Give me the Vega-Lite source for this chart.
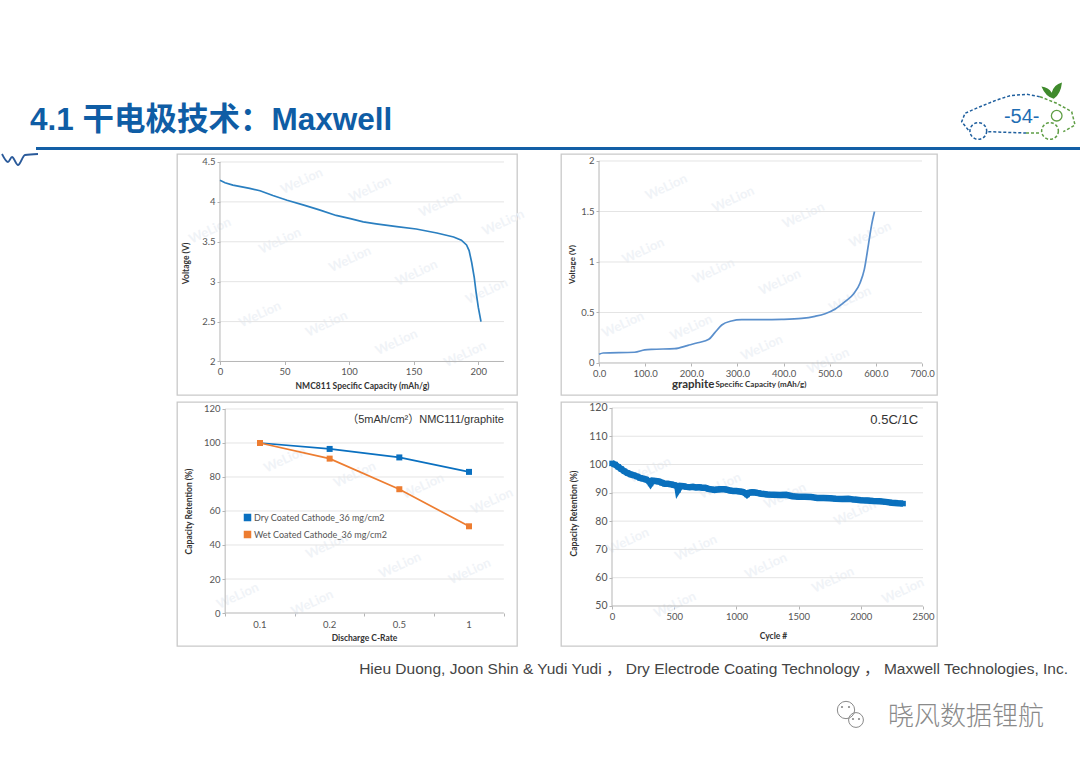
{
  "$schema": "https://vega.github.io/schema/vega-lite/v6.json",
  "background": "white",
  "padding": {"left": -2, "top": 77, "right": 0, "bottom": 0},
  "config": {
    "view": {"stroke": null},
    "font": "Lato",
    "axis": {"zindex": 1, "grid": false, "domain": false, "tickColor": "#b5b5b5", "tickSize": 3, "labelColor": "#555555", "labelFontSize": 9.5, "titleColor": "#333333", "titleFontSize": 8.5, "titleFontWeight": "bold"}
  },
  "spacing": 0,
  "vconcat": [
    {
      "spacing": 0,
      "bounds": "flush",
      "hconcat": [
        {
          "width": 960,
          "height": 64,
          "data": {"values": [{"label": "4.1 干电极技术：Maxwell"}]},
          "mark": {"type": "text", "align": "left", "dx": 30, "dy": 12, "font": "Liberation Sans, Noto Sans CJK SC", "fontSize": 31.5, "fontWeight": "bold", "color": "#0f5da5"},
          "encoding": {
            "x": {"datum": 0, "type": "quantitative", "scale": {"domain": [0, 1]}, "axis": null},
            "text": {"field": "label"}
          }
        },
        {
          "width": 120,
          "height": 64,
          "encoding": {
            "x": {"field": "x", "type": "quantitative", "scale": {"domain": [0, 120]}, "axis": null},
            "y": {"field": "y", "type": "quantitative", "scale": {"domain": [64, 0]}, "axis": null}
          },
          "layer": [
            {
              "data": {"values": [
                {"i": 1, "x": 8.3, "y": 53, "part": "a"}, {"i": 2, "x": 1.7, "y": 44.7, "part": "a"}, {"i": 3, "x": 5, "y": 36.3, "part": "a"}, {"i": 4, "x": 20, "y": 29.7, "part": "a"}, {"i": 5, "x": 36.7, "y": 23, "part": "a"}, {"i": 6, "x": 50, "y": 18.7, "part": "a"}, {"i": 7, "x": 66.7, "y": 17.3, "part": "a"}, {"i": 8, "x": 80, "y": 19.7, "part": "a"},
                {"i": 1, "x": 28.3, "y": 54.7, "part": "b"}, {"i": 2, "x": 66, "y": 56, "part": "b"}
              ]},
              "mark": {"type": "line", "color": "#1f5f9e", "strokeWidth": 1.5, "strokeDash": [3, 2]},
              "encoding": {"detail": {"field": "part"}, "order": {"field": "i"}}
            },
            {
              "data": {"values": [
                {"i": 1, "x": 80, "y": 19.7, "part": "a"}, {"i": 2, "x": 96.7, "y": 26.3, "part": "a"}, {"i": 3, "x": 111.7, "y": 34.7, "part": "a"}, {"i": 4, "x": 115, "y": 48, "part": "a"}, {"i": 5, "x": 103.3, "y": 54.7, "part": "a"},
                {"i": 1, "x": 66, "y": 56, "part": "b"}, {"i": 2, "x": 80, "y": 56, "part": "b"}
              ]},
              "mark": {"type": "line", "color": "#5f9e45", "strokeWidth": 1.5, "strokeDash": [3, 2]},
              "encoding": {"detail": {"field": "part"}, "order": {"field": "i"}}
            },
            {
              "data": {"values": [{"x": 18.3, "y": 54}]},
              "mark": {"type": "point", "shape": "circle", "size": 280, "color": "#1f5f9e", "strokeWidth": 1.5, "strokeDash": [3, 2], "filled": false, "opacity": 1}
            },
            {
              "data": {"values": [{"x": 90, "y": 54}]},
              "mark": {"type": "point", "shape": "circle", "size": 280, "color": "#5f9e45", "strokeWidth": 1.5, "strokeDash": [3, 2], "filled": false, "opacity": 1}
            },
            {
              "data": {"values": [{"x": 96.7, "y": 38.7}]},
              "mark": {"type": "point", "shape": "circle", "size": 113, "color": "#5f9e45", "strokeWidth": 1.3, "filled": false, "opacity": 1}
            },
            {
              "data": {"values": [{"x": 91.7, "y": 14.7}]},
              "mark": {"type": "point", "shape": "M-1,-0.5 Q-0.3,-0.4 0,0.1 Q0.2,-0.7 1,-0.9 Q0.9,0.2 0.2,0.7 Q-0.6,0.5 -1,-0.5 Z", "size": 420, "color": "#3f8a2c", "filled": true, "opacity": 1}
            },
            {
              "data": {"values": [{"x": 61.7, "y": 40.3, "label": "-54-"}]},
              "mark": {"type": "text", "font": "Liberation Sans", "fontSize": 20, "color": "#1f6db3"},
              "encoding": {"text": {"field": "label"}}
            }
          ]
        }
      ]
    },
    {"width": 1080, "height": 4, "data": {"values": []}, "mark": "point"},
    {
      "spacing": 0,
      "bounds": "flush",
      "hconcat": [
        {"width": 36, "height": 3, "data": {"values": []}, "mark": "point"},
        {
          "width": 1046,
          "height": 3,
          "view": {"fill": "#135fa6", "stroke": null},
          "data": {"values": []},
          "mark": "point"
        }
      ]
    },
    {
      "spacing": 0,
      "bounds": "flush",
      "hconcat": [
        {
          "width": 177,
          "height": 241,
          "data": {"values": [{"x": 2, "y": 0}, {"x": 8, "y": 8}, {"x": 12, "y": 3}, {"x": 18, "y": 11}, {"x": 25, "y": 1}, {"x": 38, "y": 0}]},
          "mark": {"type": "line", "color": "#2a5a9a", "strokeWidth": 1.8, "interpolate": "monotone"},
          "encoding": {
            "x": {"field": "x", "type": "quantitative", "scale": {"domain": [0, 177]}, "axis": null},
            "y": {"field": "y", "type": "quantitative", "scale": {"domain": [241, 0]}, "axis": null}
          }
        },
        {
          "width": 340,
          "height": 241,
          "view": {"stroke": "#c9c9c9", "strokeWidth": 1.3},
          "encoding": {
            "x": {"field": "x", "type": "quantitative", "scale": {"domain": [-33.3, 230.1], "nice": false},
              "axis": {"orient": "bottom", "offset": -33.5, "values": [0, 50, 100, 150, 200], "title": "NMC811 Specific Capacity (mAh/g)", "titleX": 185, "titlePadding": 5}},
            "y": {"field": "y", "type": "quantitative", "scale": {"domain": [1.58, 4.6], "nice": false, "zero": false},
              "axis": {"orient": "left", "offset": -43, "values": [2, 2.5, 3, 3.5, 4, 4.5], "format": "~g", "title": "Voltage (V)", "titleY": 109, "titlePadding": 11}}
          },
          "layer": [
            {
              "data": {"values": [{"x": 63.3, "y": 4.26}, {"x": 116.2, "y": 4.16}, {"x": 170.4, "y": 3.97}, {"x": 219.5, "y": 3.74}, {"x": -7.7, "y": 3.64}, {"x": 46.5, "y": 3.51}, {"x": 100.7, "y": 3.28}, {"x": 152.3, "y": 3.11}, {"x": 206.6, "y": 2.88}, {"x": 31, "y": 2.59}, {"x": 82.6, "y": 2.47}, {"x": 136.8, "y": 2.24}, {"x": 189.8, "y": 2.09}]},
              "mark": {"type": "text", "angle": 335, "fontSize": 13, "fontWeight": "bold", "color": "#f0f3f7"},
              "encoding": {"text": {"value": "WeLion"}}
            },
            {
              "data": {"values": [{"x": 0, "x2": 220, "y": 2.5}, {"x": 0, "x2": 220, "y": 3}, {"x": 0, "x2": 220, "y": 3.5}, {"x": 0, "x2": 220, "y": 4}, {"x": 0, "x2": 220, "y": 4.5}]},
              "mark": {"type": "rule", "color": "#e4e4e4"},
              "encoding": {"x2": {"field": "x2"}}
            },
            {
              "data": {"values": [{"x": 0, "x2": 220, "y": 2, "y2": 2}, {"x": 0, "x2": 0, "y": 2, "y2": 4.5}]},
              "mark": {"type": "rule", "color": "#b5b5b5"},
              "encoding": {"x2": {"field": "x2"}, "y2": {"field": "y2"}}
            },
            {
              "data": {"values": [
                {"x": 0, "y": 4.27}, {"x": 3.9, "y": 4.24}, {"x": 10, "y": 4.21}, {"x": 23, "y": 4.17}, {"x": 31, "y": 4.14}, {"x": 41, "y": 4.08}, {"x": 52, "y": 4.02}, {"x": 65, "y": 3.96}, {"x": 77, "y": 3.9}, {"x": 90, "y": 3.83}, {"x": 101, "y": 3.79}, {"x": 111, "y": 3.75}, {"x": 121, "y": 3.725}, {"x": 137, "y": 3.69}, {"x": 152, "y": 3.66}, {"x": 168, "y": 3.61}, {"x": 181, "y": 3.56}, {"x": 187, "y": 3.52}, {"x": 191, "y": 3.46}, {"x": 193, "y": 3.39}, {"x": 195, "y": 3.24}, {"x": 197, "y": 3.05}, {"x": 198.3, "y": 2.88}, {"x": 200.1, "y": 2.68}, {"x": 202.2, "y": 2.5}
              ]},
              "mark": {"type": "line", "color": "#2a7fc0", "strokeWidth": 1.7}
            }
          ]
        },
        {
          "width": 44,
          "height": 241,
          "data": {"values": []},
          "mark": "point"
        },
        {
          "width": 376,
          "height": 241,
          "view": {"stroke": "#c9c9c9", "strokeWidth": 1.3},
          "encoding": {
            "x": {"field": "x", "type": "quantitative", "scale": {"domain": [-82.4, 732.5], "nice": false},
              "axis": {"orient": "bottom", "offset": -32, "values": [0, 100, 200, 300, 400, 500, 600, 700], "format": ".1f", "title": null}},
            "y": {"field": "y", "type": "quantitative", "scale": {"domain": [-0.317, 2.069], "nice": false, "zero": false},
              "axis": {"orient": "left", "offset": -38, "values": [0, 0.5, 1, 1.5, 2], "format": "~g", "title": "Voltage (V)", "titleFontSize": 8, "titleY": 110, "titlePadding": 4}}
          },
          "layer": [
            {
              "data": {"values": [{"x": 146, "y": 1.74}, {"x": 291, "y": 1.62}, {"x": 443, "y": 1.46}, {"x": 588, "y": 1.27}, {"x": 96, "y": 1.11}, {"x": 248, "y": 0.91}, {"x": 392, "y": 0.8}, {"x": 544, "y": 0.63}, {"x": 52, "y": 0.38}, {"x": 200, "y": 0.35}, {"x": 353, "y": 0.15}, {"x": 497, "y": 0.02}]},
              "mark": {"type": "text", "angle": 335, "fontSize": 13, "fontWeight": "bold", "color": "#f0f3f7"},
              "encoding": {"text": {"value": "WeLion"}}
            },
            {
              "data": {"values": [{"x": 0, "x2": 700, "y": 0.5}, {"x": 0, "x2": 700, "y": 1}, {"x": 0, "x2": 700, "y": 1.5}, {"x": 0, "x2": 700, "y": 2}]},
              "mark": {"type": "rule", "color": "#e4e4e4"},
              "encoding": {"x2": {"field": "x2"}}
            },
            {
              "data": {"values": [{"x": 0, "x2": 700, "y": 0, "y2": 0}, {"x": 0, "x2": 0, "y": 0, "y2": 2}]},
              "mark": {"type": "rule", "color": "#b5b5b5"},
              "encoding": {"x2": {"field": "x2"}, "y2": {"field": "y2"}}
            },
            {
              "data": {"values": [
                {"x": 0, "y": 0.086}, {"x": 9, "y": 0.099}, {"x": 77, "y": 0.106}, {"x": 99, "y": 0.129}, {"x": 114, "y": 0.135}, {"x": 164, "y": 0.142}, {"x": 193, "y": 0.175}, {"x": 214, "y": 0.2}, {"x": 238, "y": 0.234}, {"x": 251, "y": 0.3}, {"x": 266, "y": 0.376}, {"x": 287, "y": 0.416}, {"x": 309, "y": 0.429}, {"x": 353, "y": 0.429}, {"x": 396, "y": 0.432}, {"x": 439, "y": 0.442}, {"x": 468, "y": 0.462}, {"x": 490, "y": 0.488}, {"x": 512, "y": 0.535}, {"x": 533, "y": 0.607}, {"x": 552, "y": 0.686}, {"x": 566, "y": 0.795}, {"x": 575, "y": 0.927}, {"x": 584, "y": 1.175}, {"x": 591, "y": 1.373}, {"x": 597, "y": 1.498}
              ]},
              "mark": {"type": "line", "color": "#5a8fcc", "strokeWidth": 1.7, "interpolate": "monotone"}
            },
            {
              "data": {"values": [{"x": 204, "y": -0.218, "label": "graphite"}]},
              "mark": {"type": "text", "fontSize": 11.5, "fontWeight": "bold", "color": "#333333"},
              "encoding": {"text": {"field": "label"}}
            },
            {
              "data": {"values": [{"x": 351, "y": -0.218, "label": "Specific Capacity (mAh/g)"}]},
              "mark": {"type": "text", "fontSize": 8, "fontWeight": "bold", "color": "#333333"},
              "encoding": {"text": {"field": "label"}}
            }
          ]
        }
      ]
    },
    {"width": 1080, "height": 4.5, "data": {"values": []}, "mark": "point"},
    {
      "spacing": 0,
      "bounds": "flush",
      "hconcat": [
        {
          "width": 177,
          "height": 244,
          "data": {"values": []},
          "mark": "point"
        },
        {
          "width": 340,
          "height": 244,
          "view": {"stroke": "#c9c9c9", "strokeWidth": 1.3},
          "encoding": {
            "x": {"field": "x", "type": "quantitative", "scale": {"domain": [-0.191, 4.689], "nice": false, "zero": false},
              "axis": {"orient": "bottom", "offset": -33, "values": [0.5, 1.5, 2.5, 3.5, 4.5], "labels": false, "title": "Discharge C-Rate", "titleX": 187, "titlePadding": 17}},
            "y": {"field": "y", "type": "quantitative", "scale": {"domain": [-19.4, 124.1], "nice": false},
              "axis": {"orient": "left", "offset": -48, "values": [0, 20, 40, 60, 80, 100, 120], "title": "Capacity Retention (%)", "titleY": 109, "titlePadding": 10}}
          },
          "layer": [
            {
              "data": {"values": [{"x": 1.36, "y": 90.2}, {"x": 2.36, "y": 81.4}, {"x": 3.34, "y": 74.5}, {"x": 4.33, "y": 65.8}, {"x": 0.68, "y": 10}, {"x": 1.75, "y": 5.9}, {"x": 3.01, "y": 28}, {"x": 4.01, "y": 24.5}, {"x": 1.96, "y": 39.4}]},
              "mark": {"type": "text", "angle": 335, "fontSize": 13, "fontWeight": "bold", "color": "#f0f3f7"},
              "encoding": {"text": {"value": "WeLion"}}
            },
            {
              "data": {"values": [{"x": 0.5, "x2": 4.5, "y": 20}, {"x": 0.5, "x2": 4.5, "y": 40}, {"x": 0.5, "x2": 4.5, "y": 60}, {"x": 0.5, "x2": 4.5, "y": 80}, {"x": 0.5, "x2": 4.5, "y": 100}, {"x": 0.5, "x2": 4.5, "y": 120}]},
              "mark": {"type": "rule", "color": "#e4e4e4"},
              "encoding": {"x2": {"field": "x2"}}
            },
            {
              "data": {"values": [{"x": 0.5, "x2": 4.5, "y": 0, "y2": 0}, {"x": 0.5, "x2": 0.5, "y": 0, "y2": 120}]},
              "mark": {"type": "rule", "color": "#b5b5b5"},
              "encoding": {"x2": {"field": "x2"}, "y2": {"field": "y2"}}
            },
            {
              "data": {"values": [
                {"x": 1, "y": 100, "series": "Dry Coated Cathode_36 mg/cm2"}, {"x": 2, "y": 96.5, "series": "Dry Coated Cathode_36 mg/cm2"}, {"x": 3, "y": 91.5, "series": "Dry Coated Cathode_36 mg/cm2"}, {"x": 4, "y": 83, "series": "Dry Coated Cathode_36 mg/cm2"},
                {"x": 1, "y": 100, "series": "Wet Coated Cathode_36 mg/cm2"}, {"x": 2, "y": 90.8, "series": "Wet Coated Cathode_36 mg/cm2"}, {"x": 3, "y": 72.8, "series": "Wet Coated Cathode_36 mg/cm2"}, {"x": 4, "y": 51, "series": "Wet Coated Cathode_36 mg/cm2"}
              ]},
              "mark": {"type": "line", "strokeWidth": 1.7, "point": {"filled": true, "shape": "square", "size": 36, "opacity": 1}},
              "encoding": {
                "color": {"field": "series", "type": "nominal",
                  "scale": {"domain": ["Dry Coated Cathode_36 mg/cm2", "Wet Coated Cathode_36 mg/cm2"], "range": ["#0a70c0", "#ed7d31"]},
                  "legend": {"orient": "none", "legendX": 243, "legendY": 436, "title": null, "labelFontSize": 9, "labelColor": "#555555", "symbolSize": 36, "symbolType": "square", "rowPadding": 4, "labelOffset": 2}}
              }
            },
            {
              "data": {"values": [{"x": 1, "y": 0, "label": "0.1"}, {"x": 2, "y": 0, "label": "0.2"}, {"x": 3, "y": 0, "label": "0.5"}, {"x": 4, "y": 0, "label": "1"}]},
              "mark": {"type": "text", "dy": 12, "fontSize": 9.5, "color": "#555555"},
              "encoding": {"text": {"field": "label"}}
            },
            {
              "data": {"values": [{"x": 4.5, "y": 113.5, "label": "（5mAh/cm²）NMC111/graphite"}]},
              "mark": {"type": "text", "align": "right", "font": "Liberation Sans, Noto Sans CJK SC", "fontSize": 11, "color": "#333333"},
              "encoding": {"text": {"field": "label"}}
            }
          ]
        },
        {
          "width": 44,
          "height": 244,
          "data": {"values": []},
          "mark": "point"
        },
        {
          "width": 376,
          "height": 244,
          "view": {"stroke": "#c9c9c9", "strokeWidth": 1.3},
          "encoding": {
            "x": {"field": "x", "type": "quantitative", "scale": {"domain": [-410, 2612.5], "nice": false},
              "axis": {"orient": "bottom", "offset": -40, "values": [0, 500, 1000, 1500, 2000, 2500], "format": "d", "title": "Cycle #", "titleX": 212, "titlePadding": 11}},
            "y": {"field": "y", "type": "quantitative", "scale": {"domain": [35.86, 122.1], "nice": false, "zero": false},
              "axis": {"orient": "left", "offset": -51, "values": [50, 60, 70, 80, 90, 100, 110, 120], "labelFontSize": 10.5, "title": "Capacity Retention (%)", "titleY": 111, "titlePadding": 10}}
          },
          "layer": [
            {
              "data": {"values": [{"x": 305, "y": 98}, {"x": 868, "y": 92.4}, {"x": 1391, "y": 88.9}, {"x": 1953, "y": 82.9}, {"x": 129, "y": 73}, {"x": 675, "y": 70.5}, {"x": 1238, "y": 64.1}, {"x": 1777, "y": 59.2}, {"x": 2339, "y": 55.3}, {"x": 506, "y": 50.4}]},
              "mark": {"type": "text", "angle": 335, "fontSize": 13, "fontWeight": "bold", "color": "#f0f3f7"},
              "encoding": {"text": {"value": "WeLion"}}
            },
            {
              "data": {"values": [{"x": 0, "x2": 2500, "y": 60}, {"x": 0, "x2": 2500, "y": 70}, {"x": 0, "x2": 2500, "y": 80}, {"x": 0, "x2": 2500, "y": 90}, {"x": 0, "x2": 2500, "y": 100}, {"x": 0, "x2": 2500, "y": 110}, {"x": 0, "x2": 2500, "y": 120}]},
              "mark": {"type": "rule", "color": "#e4e4e4"},
              "encoding": {"x2": {"field": "x2"}}
            },
            {
              "data": {"values": [{"x": 0, "x2": 2500, "y": 50, "y2": 50}, {"x": 0, "x2": 0, "y": 50, "y2": 120}]},
              "mark": {"type": "rule", "color": "#b5b5b5"},
              "encoding": {"x2": {"field": "x2"}, "y2": {"field": "y2"}}
            },
            {
              "data": {"values": [
                {"x": 0, "y": 100.4}, {"x": 25, "y": 100}, {"x": 50, "y": 99.2}, {"x": 75, "y": 98.4}, {"x": 100, "y": 97.6}, {"x": 125, "y": 97}, {"x": 150, "y": 96.5}, {"x": 175, "y": 96.2}, {"x": 200, "y": 95.8}, {"x": 225, "y": 95.3}, {"x": 250, "y": 95}, {"x": 275, "y": 94.7}, {"x": 300, "y": 94}, {"x": 310, "y": 93.3}, {"x": 325, "y": 94.3}, {"x": 350, "y": 94.2}, {"x": 375, "y": 94}, {"x": 400, "y": 93.6}, {"x": 425, "y": 93.2}, {"x": 450, "y": 93.2}, {"x": 475, "y": 93}, {"x": 500, "y": 92.7}, {"x": 525, "y": 92.4}, {"x": 530, "y": 91}, {"x": 550, "y": 92.4}, {"x": 575, "y": 92.3}, {"x": 600, "y": 92.1}, {"x": 625, "y": 92}, {"x": 650, "y": 92.1}, {"x": 675, "y": 91.9}, {"x": 700, "y": 92}, {"x": 725, "y": 91.8}, {"x": 750, "y": 91.8}, {"x": 775, "y": 91.4}, {"x": 800, "y": 91.2}, {"x": 825, "y": 91}, {"x": 850, "y": 91.2}, {"x": 875, "y": 91.3}, {"x": 900, "y": 91.3}, {"x": 925, "y": 91.1}, {"x": 950, "y": 90.8}, {"x": 975, "y": 90.6}, {"x": 1000, "y": 90.6}, {"x": 1025, "y": 90.5}, {"x": 1050, "y": 90.3}, {"x": 1075, "y": 89.8}, {"x": 1085, "y": 89.4}, {"x": 1100, "y": 90}, {"x": 1125, "y": 90.2}, {"x": 1150, "y": 90.1}, {"x": 1175, "y": 89.9}, {"x": 1200, "y": 89.7}, {"x": 1250, "y": 89.4}, {"x": 1300, "y": 89.3}, {"x": 1350, "y": 89.2}, {"x": 1400, "y": 89.3}, {"x": 1450, "y": 88.8}, {"x": 1500, "y": 88.6}, {"x": 1550, "y": 88.6}, {"x": 1600, "y": 88.5}, {"x": 1650, "y": 88.2}, {"x": 1700, "y": 88.2}, {"x": 1750, "y": 88.1}, {"x": 1800, "y": 87.9}, {"x": 1850, "y": 87.8}, {"x": 1900, "y": 87.9}, {"x": 1950, "y": 87.6}, {"x": 2000, "y": 87.4}, {"x": 2050, "y": 87.3}, {"x": 2100, "y": 87.1}, {"x": 2150, "y": 87}, {"x": 2200, "y": 86.8}, {"x": 2250, "y": 86.5}, {"x": 2300, "y": 86.3}, {"x": 2340, "y": 86.2}
              ]},
              "mark": {"type": "line", "color": "#0a70bd", "strokeWidth": 6.5, "point": {"filled": true, "shape": "square", "size": 30, "color": "#0a70bd", "opacity": 1}}
            },
            {
              "data": {"values": [{"x": 2460, "y": 115.7, "label": "0.5C/1C"}]},
              "mark": {"type": "text", "align": "right", "font": "Liberation Sans", "fontSize": 13, "color": "#333333"},
              "encoding": {"text": {"field": "label"}}
            }
          ]
        }
      ]
    },
    {"width": 1080, "height": 3, "data": {"values": []}, "mark": "point"},
    {
      "width": 1068,
      "height": 38,
      "data": {"values": [{"label": "Hieu Duong, Joon Shin & Yudi Yudi ， Dry Electrode Coating Technology ， Maxwell Technologies, Inc."}]},
      "mark": {"type": "text", "align": "right", "font": "Liberation Sans, Noto Sans CJK SC", "fontSize": 15.5, "color": "#444444"},
      "encoding": {
        "x": {"datum": 1, "type": "quantitative", "scale": {"domain": [0, 1]}, "axis": null},
        "text": {"field": "label"}
      }
    },
    {"width": 1080, "height": 6, "data": {"values": []}, "mark": "point"},
    {
      "spacing": 0,
      "bounds": "flush",
      "hconcat": [
        {
          "width": 835,
          "height": 42,
          "data": {"values": []},
          "mark": "point"
        },
        {
          "width": 215,
          "height": 42,
          "encoding": {
            "x": {"field": "x", "type": "quantitative", "scale": {"domain": [0, 215]}, "axis": null},
            "y": {"field": "y", "type": "quantitative", "scale": {"domain": [42, 0]}, "axis": null}
          },
          "layer": [
            {
              "data": {"values": [{"x": 11, "y": 16, "size": 300}, {"x": 21, "y": 26, "size": 220}]},
              "mark": {"type": "point", "shape": "circle", "color": "#8a8a8a", "strokeWidth": 1, "filled": false, "opacity": 1},
              "encoding": {"size": {"field": "size", "type": "quantitative", "scale": null, "legend": null}}
            },
            {
              "data": {"values": [{"x": 7, "y": 13}, {"x": 14, "y": 13}, {"x": 18, "y": 25}, {"x": 24, "y": 25}]},
              "mark": {"type": "point", "shape": "circle", "size": 5, "color": "#8a8a8a", "filled": true, "opacity": 1}
            },
            {
              "data": {"values": [{"x": 53, "y": 23, "label": "晓风数据锂航"}]},
              "mark": {"type": "text", "align": "left", "font": "Noto Sans CJK SC", "fontSize": 26, "fontWeight": 300, "color": "#8a8a8a"},
              "encoding": {"text": {"field": "label"}}
            }
          ]
        }
      ]
    }
  ]
}
